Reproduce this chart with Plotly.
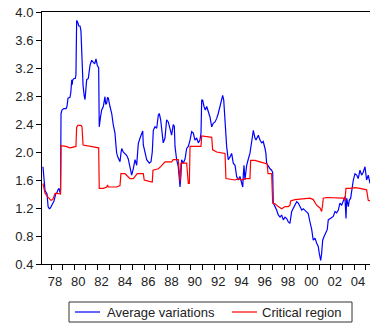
import plotly.graph_objects as go

# Average variations (decimal year, value)
blue_t = [1977.31, 1977.40, 1977.49, 1977.66, 1977.75, 1977.85, 1977.95, 1978.10, 1978.26, 1978.40,
          1978.51, 1978.60, 1978.69, 1978.77, 1978.82, 1978.86, 1978.94, 1979.10, 1979.29, 1979.37,
          1979.46, 1979.63, 1979.70, 1979.78, 1979.82, 1979.86, 1979.97, 1980.08, 1980.14, 1980.20,
          1980.30, 1980.38, 1980.49, 1980.57, 1980.66, 1980.75, 1980.85, 1980.92, 1981.06, 1981.20,
          1981.35, 1981.49, 1981.63, 1981.75, 1981.86, 1981.97, 1982.09, 1982.14, 1982.25, 1982.35,
          1982.49, 1982.63, 1982.70, 1982.78, 1982.85, 1982.92, 1983.06, 1983.21, 1983.34, 1983.49,
          1983.58, 1983.64, 1983.75, 1983.92, 1984.00, 1984.07, 1984.20, 1984.35, 1984.50, 1984.63,
          1984.78, 1984.92, 1985.06, 1985.21, 1985.35, 1985.49, 1985.64, 1985.78, 1985.87, 1985.92,
          1986.06, 1986.21, 1986.43, 1986.58, 1986.69, 1986.78, 1986.92, 1987.07, 1987.21, 1987.29,
          1987.41, 1987.50, 1987.63, 1987.78, 1987.92, 1988.06, 1988.21, 1988.35, 1988.49, 1988.58,
          1988.64, 1988.78, 1988.92, 1989.07, 1989.15, 1989.21, 1989.35, 1989.50, 1989.64, 1989.78,
          1989.93, 1990.07, 1990.21, 1990.35, 1990.50, 1990.64, 1990.78, 1990.87, 1990.93, 1991.01,
          1991.13, 1991.24, 1991.36, 1991.50, 1991.64, 1991.79, 1991.92, 1992.07, 1992.22, 1992.35,
          1992.50, 1992.64, 1992.73, 1992.82, 1992.93, 1993.07, 1993.14, 1993.21, 1993.36, 1993.50,
          1993.64, 1993.79, 1993.93, 1994.07, 1994.21, 1994.36, 1994.45, 1994.50, 1994.56, 1994.64,
          1994.79, 1994.93, 1995.07, 1995.22, 1995.30, 1995.36, 1995.50, 1995.59, 1995.79, 1995.93,
          1996.08, 1996.21, 1996.36, 1996.44, 1996.50, 1996.64, 1996.79, 1996.93, 1997.02, 1997.07,
          1997.22, 1997.36, 1997.50, 1997.65, 1997.79, 1997.93, 1998.08, 1998.22, 1998.36, 1998.50,
          1998.65, 1998.79, 1998.93, 1999.08, 1999.22, 1999.36, 1999.51, 1999.65, 1999.79, 1999.94,
          2000.07, 2000.22, 2000.37, 2000.50, 2000.65, 2000.79, 2000.93, 2001.02, 2001.14, 2001.22,
          2001.31, 2001.42, 2001.59, 2001.70, 2001.79, 2001.94, 2002.08, 2002.22, 2002.37, 2002.51,
          2002.65, 2002.79, 2002.94, 2003.08, 2003.22, 2003.31, 2003.37, 2003.51, 2003.59, 2003.71,
          2003.80, 2003.94, 2004.08, 2004.23, 2004.36, 2004.51, 2004.65, 2004.79, 2004.94, 2005.08,
          2005.22, 2005.37]
blue_v = [1.79, 1.62, 1.45, 1.40, 1.22, 1.19, 1.20, 1.25, 1.30, 1.40,
          1.42, 1.46, 1.48, 1.42, 1.45, 2.55, 2.60, 2.62, 2.62, 2.65,
          2.77, 2.78, 2.85, 3.03, 2.96, 3.03, 3.05, 3.05, 3.10, 3.88,
          3.85, 3.80, 3.80, 3.73, 3.30, 2.95, 2.80, 2.75, 3.03, 3.05,
          3.24, 3.31, 3.28, 3.26, 3.33, 3.24, 3.20, 2.36, 2.50, 2.60,
          2.65, 2.79, 2.68, 2.70, 2.78, 2.77, 2.65, 2.55, 2.39, 2.27,
          2.08, 1.98, 1.92, 1.86, 1.98, 2.05, 2.00, 1.98, 1.95, 1.90,
          1.80, 1.67, 1.76, 1.89, 1.81, 2.12, 2.20, 2.27, 2.30, 2.10,
          1.98, 1.89, 1.84, 1.86, 2.00, 2.31, 2.36, 2.34, 2.53, 2.55,
          2.46, 2.27, 2.13, 2.20, 2.46, 2.43, 2.34, 2.24, 2.39, 2.37,
          2.08, 1.89, 1.79, 1.50, 1.67, 1.89, 1.84, 1.90, 2.05, 2.08,
          2.17, 2.29, 2.27, 2.17, 2.20, 2.13, 2.17, 2.27, 2.74, 2.74,
          2.65, 2.60, 2.65, 2.58, 2.50, 2.36, 2.41, 2.43, 2.48, 2.55,
          2.65, 2.72, 2.81, 2.74, 2.36, 2.08, 1.98, 1.89, 1.93, 1.98,
          1.84, 1.81, 1.65, 1.60, 1.65, 1.55, 1.50, 1.67, 1.81, 1.60,
          1.81, 1.90, 1.98, 2.15, 2.27, 2.31, 2.20, 2.17, 2.24, 2.17,
          2.13, 2.15, 2.05, 1.98, 1.84, 1.79, 1.76, 1.74, 1.71, 1.27,
          1.22, 1.17, 1.10, 1.07, 1.10, 1.03, 1.07, 1.05, 1.00, 0.98,
          1.15, 1.19, 1.24, 1.29, 1.27, 1.22, 1.17, 1.19, 1.17, 1.15,
          1.12, 1.00, 0.89, 0.74, 0.77, 0.70, 0.65, 0.55, 0.45, 0.55,
          0.74, 0.79, 0.84, 0.89, 1.03, 1.05, 1.07, 1.08, 1.15, 1.13,
          1.17, 1.27, 1.24, 1.31, 1.36, 1.05, 1.34, 1.22, 1.31, 1.34,
          1.46, 1.60, 1.69, 1.67, 1.62, 1.74, 1.67, 1.71, 1.79, 1.60,
          1.67, 1.55]

# Critical region (decimal year, value)
red_t = [1977.31, 1977.40, 1977.49, 1977.66, 1977.85, 1978.00, 1978.15, 1978.26, 1978.35, 1978.51,
         1978.77, 1978.82, 1978.86, 1979.29, 1979.63, 1979.97, 1980.14, 1980.20, 1980.30, 1980.57,
         1980.66, 1980.75, 1981.06, 1981.63, 1982.09, 1982.14, 1982.49, 1982.78, 1982.85, 1982.92,
         1983.64, 1983.92, 1984.00, 1984.35, 1984.50, 1984.78, 1985.06, 1985.21, 1985.40, 1985.92,
         1986.00, 1986.43, 1986.69, 1986.75, 1987.21, 1987.41, 1987.63, 1987.78, 1988.35, 1988.49,
         1988.92, 1989.07, 1989.15, 1989.64, 1989.78, 1989.87, 1989.93, 1990.87, 1990.93, 1991.36,
         1991.79, 1991.87, 1992.22, 1992.50, 1992.93, 1993.01, 1993.36, 1993.79, 1994.07, 1994.36,
         1994.64, 1995.07, 1995.13, 1995.50, 1995.93, 1996.36, 1996.55, 1996.62, 1996.93, 1997.02,
         1997.22, 1997.50, 1997.79, 1998.08, 1998.36, 1998.50, 1998.56, 1998.93, 1999.36, 1999.79,
         2000.22, 2000.50, 2000.79, 2001.08, 2001.22, 2001.31, 2001.36, 2001.65, 2002.22, 2002.79,
         2003.08, 2003.22, 2003.31, 2003.65, 2004.08, 2004.51, 2004.94, 2005.08, 2005.22, 2005.37]
red_v = [1.55, 1.45, 1.41, 1.37, 1.33, 1.31, 1.32, 1.38, 1.41, 1.41,
         1.40, 1.40, 2.09, 2.08, 2.06, 2.08, 2.08, 2.35, 2.38, 2.38,
         2.36, 2.10, 2.09, 2.08, 2.06, 1.48, 1.48, 1.50, 1.53, 1.50,
         1.50, 1.52, 1.69, 1.69, 1.66, 1.62, 1.62, 1.65, 1.69, 1.69,
         1.60, 1.58, 1.57, 1.74, 1.76, 1.79, 1.83, 1.86, 1.86, 1.89,
         1.89, 1.58, 1.84, 1.84, 1.55, 1.55, 2.08, 2.08, 2.23, 2.22,
         2.21, 2.03, 2.00, 1.99, 1.98, 1.62, 1.61, 1.60, 1.62, 1.60,
         1.62, 1.62, 1.88, 1.88, 1.86, 1.84, 1.83, 1.69, 1.69, 1.27,
         1.26, 1.22, 1.19, 1.22, 1.22, 1.24, 1.30, 1.32, 1.33, 1.34,
         1.34, 1.32, 1.24, 1.20, 1.15, 1.25, 1.34, 1.35, 1.35, 1.35,
         1.34, 1.31, 1.48, 1.48, 1.49, 1.48, 1.46, 1.46, 1.31, 1.30]

label_years = list(range(1978, 2005, 2))
label_text = [f"{y % 100:02d}" for y in label_years]
y_ticks = [0.4, 0.8, 1.2, 1.6, 2.0, 2.4, 2.8, 3.2, 3.6, 4.0]

W, H = 371, 327
ML, MR, MT, MB = 42, 1, 12, 63
PW, PH = W - ML - MR, H - MT - MB
FONT = dict(family="Arial, Liberation Sans, sans-serif", size=13, color="#222222")


def fx(px):
    return (px - ML) / PW


def fy(py):
    return (H - MB - py) / PH


fig = go.Figure()
fig.add_trace(go.Scatter(x=blue_t, y=blue_v, mode="lines", name="Average variations",
                         line=dict(color="#0000ff", width=1.2)))
fig.add_trace(go.Scatter(x=red_t, y=red_v, mode="lines", name="Critical region",
                         line=dict(color="#ff0000", width=1.2)))

fig.update_layout(
    width=W, height=H,
    margin=dict(l=ML, r=MR, t=MT, b=MB, pad=0),
    paper_bgcolor="white", plot_bgcolor="white",
    showlegend=False,
    font=FONT,
)
fig.update_xaxes(
    range=[1977.228, 2005.37], showgrid=False, zeroline=False,
    showline=True, linecolor="black", linewidth=1, mirror=True,
    tickmode="array", tickvals=[y + 0.34 for y in label_years], ticktext=label_text,
    ticks="outside", ticklen=5, tickcolor="rgba(0,0,0,0)",
    minor=dict(ticks="outside", ticklen=5, tickcolor="black", tick0=1977, dtick=1, showgrid=False),
    tickfont=FONT,
)
fig.update_yaxes(
    range=[0.4, 4.0], showgrid=False, zeroline=False,
    showline=True, linecolor="black", linewidth=1,
    tickmode="array", tickvals=y_ticks, ticktext=[f"{v:.1f}" for v in y_ticks],
    ticks="outside", ticklen=5, tickcolor="black",
    tickfont=FONT,
)

# Legend box drawn below the plot
shapes = [
    dict(type="rect", xref="paper", yref="paper", x0=fx(69), x1=fx(352), y0=fy(322), y1=fy(302),
         line=dict(color="#333333", width=1), fillcolor="white"),
    dict(type="line", xref="paper", yref="paper", x0=fx(75), x1=fx(100), y0=fy(312), y1=fy(312),
         line=dict(color="#0000ff", width=1.2)),
    dict(type="line", xref="paper", yref="paper", x0=fx(232), x1=fx(257), y0=fy(312), y1=fy(312),
         line=dict(color="#ff0000", width=1.2)),
]
annotations = [
    dict(xref="paper", yref="paper", x=fx(105), y=fy(312), text="Average variations",
         showarrow=False, xanchor="left", yanchor="middle", font=FONT),
    dict(xref="paper", yref="paper", x=fx(260), y=fy(312), text="Critical region",
         showarrow=False, xanchor="left", yanchor="middle", font=FONT),
]
fig.update_layout(shapes=shapes, annotations=annotations)

fig.write_html("out.html")
